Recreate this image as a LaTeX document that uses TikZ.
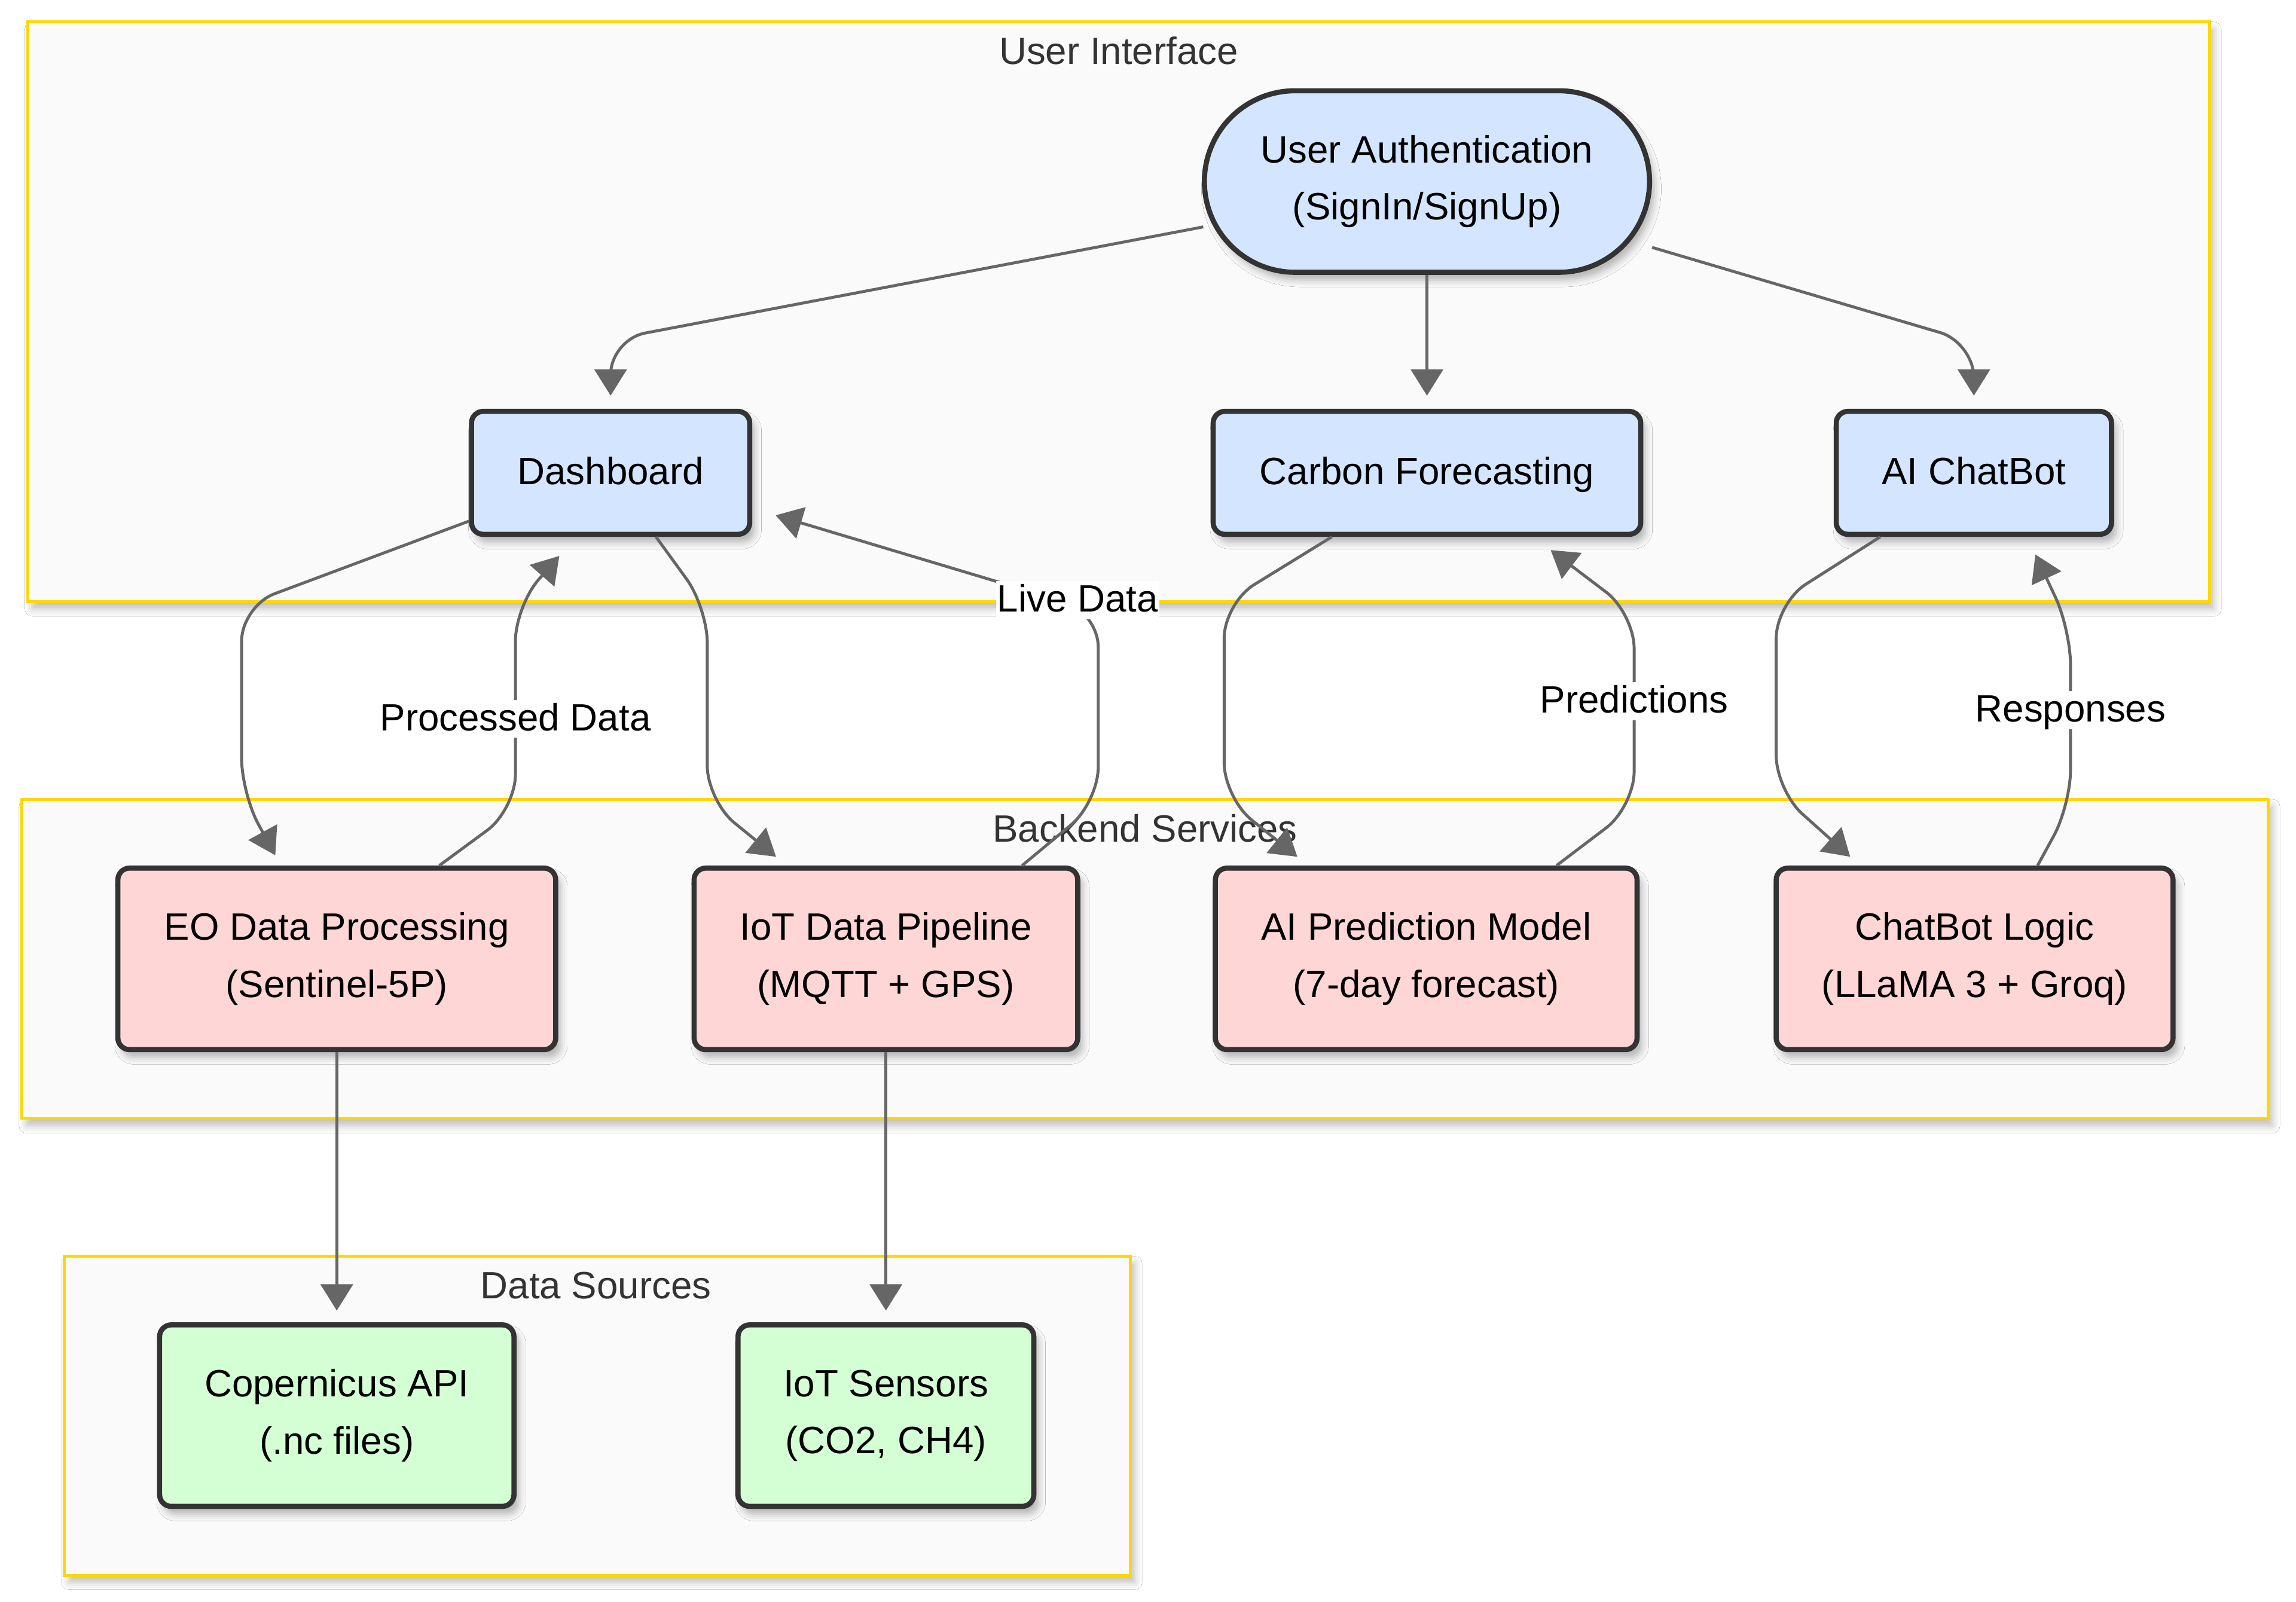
\documentclass[tikz,border=0pt]{standalone}
\usepackage{fontspec}
\setmainfont{Liberation Sans}
\usetikzlibrary{arrows.meta,shadows.blur}
\definecolor{uiblue}{HTML}{D4E6FF}
\definecolor{bepink}{HTML}{FFD6D6}
\definecolor{dsgreen}{HTML}{D4FFD4}
\definecolor{nodeline}{HTML}{333333}
\definecolor{edgegray}{HTML}{666666}
\definecolor{clusterfill}{HTML}{FAFAFA}
\definecolor{clusterline}{HTML}{FFD700}
\definecolor{labelgray}{HTML}{333333}
\begin{document}
\begin{tikzpicture}[x=1pt,y=-1pt,
  txt/.style={font=\fontsize{26}{39}\selectfont, align=center},
  oneline/.style={text height=20pt, text depth=4pt},
  box/.style={txt, draw=nodeline, line width=3.5pt, rounded corners=8pt, inner sep=0pt,
    blur shadow={shadow xshift=3pt, shadow yshift=-5pt, shadow blur radius=5pt, shadow opacity=30}},
  uibox/.style={box, oneline, fill=uiblue, minimum height=84pt},
  bebox/.style={box, fill=bepink, minimum height=124pt},
  dsbox/.style={box, fill=dsgreen, minimum height=124pt},
  cluster/.style={draw=clusterline, line width=2pt, fill=clusterfill, inner sep=0pt,
    blur shadow={shadow xshift=3pt, shadow yshift=-5pt, shadow blur radius=5pt, shadow opacity=25}},
  clabel/.style={font=\fontsize{26}{39}\selectfont, text=labelgray, anchor=base, inner sep=0pt},
  edge/.style={draw=edgegray, line width=2pt, rounded corners=24pt, -{Triangle[length=18pt,width=22pt]}},
  elabel/.style={txt, oneline, fill=white, inner sep=1pt}
]
\useasboundingbox (0,0) rectangle (1568,1094.3);
\fill[white] (0,0) rectangle (1568,1094.3);

% clusters
\node[cluster, minimum width=1490pt, minimum height=396pt] (ui) at (764,213) {};
\node[cluster, minimum width=1534pt, minimum height=218pt] (be) at (782,655) {};
\node[cluster, minimum width=728pt, minimum height=218pt] (ds) at (408,967) {};
\node[clabel] (uilab) at (764,44) {User Interface};
\node[clabel] (belab) at (782,575) {Backend Services};
\node[clabel] (dslab) at (407,887) {Data Sources};

% nodes
\node[box, fill=uiblue, minimum width=304pt, minimum height=124pt, rounded corners=62pt] (auth) at (974.5,124) {User Authentication\\(SignIn/SignUp)};
\node[uibox, minimum width=190pt] (dash) at (417,323) {Dashboard};
\node[uibox, minimum width=292pt] (carbon) at (974.5,323) {Carbon Forecasting};
\node[uibox, minimum width=188pt] (chat) at (1348,323) {AI ChatBot};
\node[bebox, minimum width=299pt] (eo) at (230,655) {EO Data Processing\\(Sentinel-5P)};
\node[bebox, minimum width=262pt] (iot) at (605,655) {IoT Data Pipeline\\(MQTT + GPS)};
\node[bebox, minimum width=288pt] (pred) at (974,655) {AI Prediction Model\\(7-day forecast)};
\node[bebox, minimum width=271pt] (logic) at (1348.5,655) {ChatBot Logic\\(LLaMA 3 + Groq)};
\node[dsbox, minimum width=242pt] (cop) at (230,967) {Copernicus API\\(.nc files)};
\node[dsbox, minimum width=202pt] (sens) at (605,967) {IoT Sensors\\(CO2, CH4)};

% edges
\draw[edge] ([shift={(1,31)}]auth.west) -- (417,232) -- ([shift={(0,-9)}]dash.north);
\draw[edge] (auth.south) -- ([shift={(0,-9)}]carbon.north);
\draw[edge] ([shift={(0,45)}]auth.east) -- (1348,234) -- ([shift={(0,-9)}]chat.north);
\draw[edge] ([shift={(0,33)}]dash.west) -- (165,414) -- (165,542) -- ([shift={(-42,-7)}]eo.north);
\draw[edge] ([shift={(70,0)}]eo.north) -- (352,553) -- (352,414) -- ([shift={(-35,13)}]dash.south);
\draw[edge] ([shift={(31,0)}]dash.south) -- (483,415) -- (483,547) -- ([shift={(-75,-6)}]iot.north);
\draw[edge] ([shift={(93,0)}]iot.north) -- (750,548) -- (750,418) -- ([shift={(16,29)}]dash.east);
\draw[edge] ([shift={(-65,0)}]carbon.south) -- (836,412) -- (836,545) -- ([shift={(-88,-6)}]pred.north);
\draw[edge] ([shift={(89,0)}]pred.north) -- (1116,551) -- (1116,419) -- ([shift={(84.5,9)}]carbon.south);
\draw[edge] ([shift={(-64,0)}]chat.south) -- (1213,412) -- (1213,540) -- ([shift={(-85,-6)}]logic.north);
\draw[edge] ([shift={(43,0)}]logic.north) -- (1414,550) -- (1414,430) -- ([shift={(42,12)}]chat.south);
\draw[edge] (eo.south) -- ([shift={(0,-8)}]cop.north);
\draw[edge] (iot.south) -- ([shift={(0,-8)}]sens.north);

% edge labels
\node[elabel] (lproc) at (352,491) {Processed Data};
\node[elabel] (llive) at (736,410) {Live Data};
\node[elabel] (lpred) at (1116,479) {Predictions};
\node[elabel] (lresp) at (1414,485) {Responses};
\end{tikzpicture}
\end{document}
